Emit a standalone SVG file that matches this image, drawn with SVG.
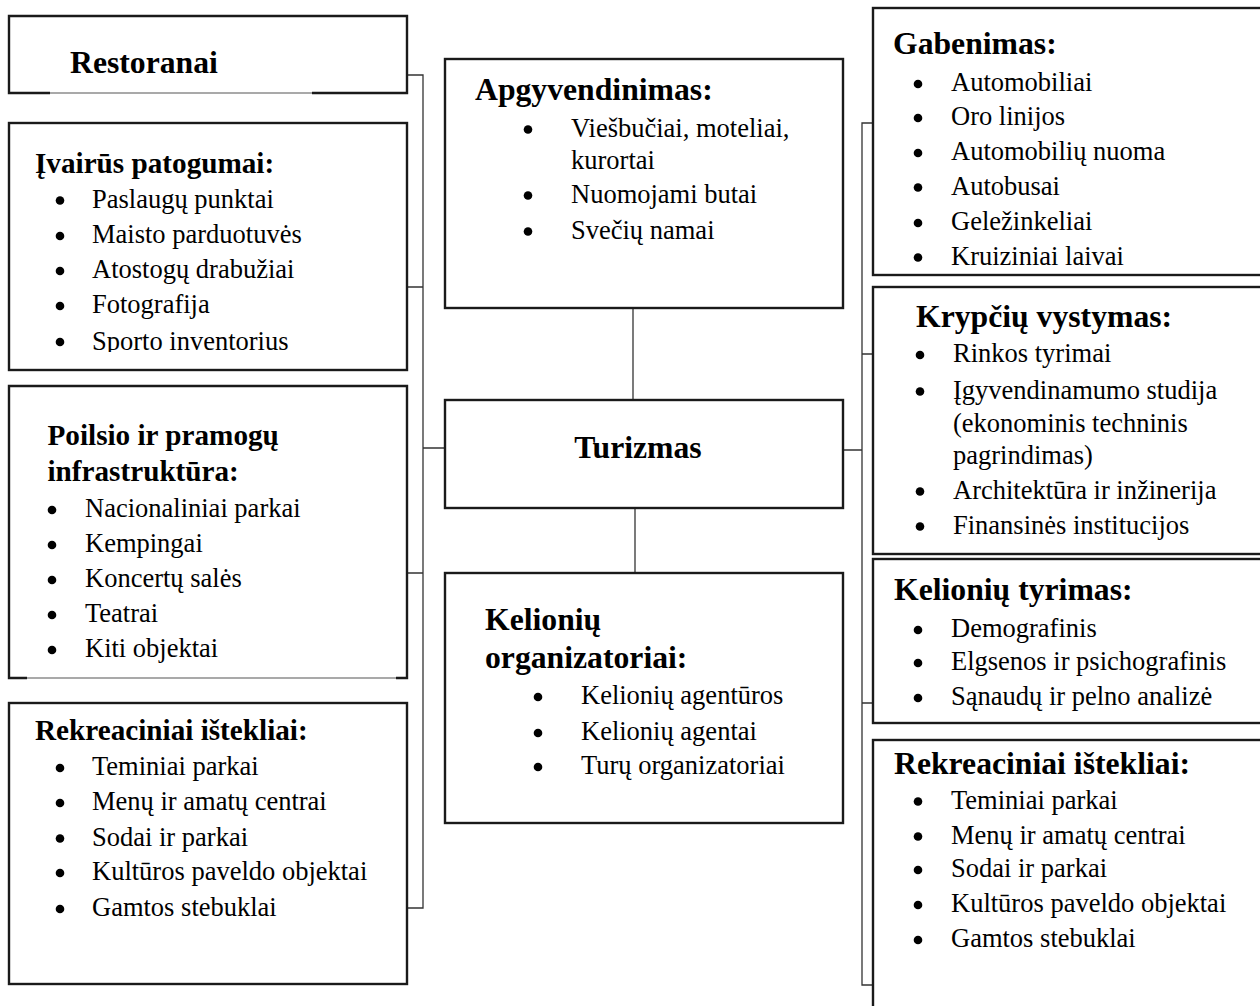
<svg xmlns="http://www.w3.org/2000/svg" width="1260" height="1006" viewBox="0 0 1260 1006">
<style>
.box{fill:#fff;stroke:#1a1a1a;stroke-width:2.4}
.edge{fill:none;stroke:#1a1a1a;stroke-width:2.4}
.thin{fill:none;stroke:#555;stroke-width:1.2}
.con{fill:none;stroke:#333;stroke-width:1.3}
text{font-family:"Liberation Serif","Times New Roman",serif;fill:#000}
.b{font-size:26.5px}
.h1{font-size:29.2px;font-weight:bold}
.h2{font-size:31.7px;font-weight:bold}
.dot{fill:#000}
</style>
<defs>
<clipPath id="clipSporto"><rect x="0" y="0" width="420" height="352"/></clipPath>
</defs>
<rect width="1260" height="1006" fill="#fff"/>

<g id="connectors">
<path class="con" d="M407,75 H423 V908 H407 M407,287 H423 M423,448 H445 M407,573 H423"/>
<path class="con" d="M873,123 H862 V985 H873 M862,354 H873 M843,450 H862 M862,703 H873"/>
<path class="con" d="M633,308 V400"/>
<path class="con" d="M635,508 V573"/>
</g>

<g id="restoranai">
<rect x="9" y="16" width="398" height="77" fill="#fff" stroke="none"/>
<path class="edge" d="M50,93 H9 V16 H407 V93 H312"/>
<path class="thin" d="M50,93 H312"/>
<text class="h2" x="70" y="73">Restoranai</text>
</g>

<g id="ivairus">
<rect class="box" x="9" y="123" width="398" height="247"/>
<text class="h1" x="35" y="173">Įvairūs patogumai:</text>
<circle class="dot" cx="60" cy="200.5" r="4.3"/><text class="b" x="92" y="207.5">Paslaugų punktai</text>
<circle class="dot" cx="60" cy="236" r="4.3"/><text class="b" x="92" y="243">Maisto parduotuvės</text>
<circle class="dot" cx="60" cy="271" r="4.3"/><text class="b" x="92" y="278">Atostogų drabužiai</text>
<circle class="dot" cx="60" cy="306" r="4.3"/><text class="b" x="92" y="313">Fotografija</text>
<circle class="dot" cx="60" cy="342" r="4.3"/><text class="b" x="92" y="349.5" clip-path="url(#clipSporto)">Sporto inventorius</text>
</g>

<g id="poilsio">
<rect x="9" y="386" width="398" height="292" fill="#fff" stroke="none"/>
<path class="edge" d="M27,678 H9 V386 H407 V678 H396"/>
<path class="thin" d="M27,678 H396"/>
<text class="h1" x="47.5" y="445">Poilsio ir pramogų</text>
<text class="h1" x="47.5" y="481">infrastruktūra:</text>
<circle class="dot" cx="52" cy="510" r="4.3"/><text class="b" x="85" y="517">Nacionaliniai parkai</text>
<circle class="dot" cx="52" cy="545" r="4.3"/><text class="b" x="85" y="552">Kempingai</text>
<circle class="dot" cx="52" cy="580" r="4.3"/><text class="b" x="85" y="587">Koncertų salės</text>
<circle class="dot" cx="52" cy="615" r="4.3"/><text class="b" x="85" y="622">Teatrai</text>
<circle class="dot" cx="52" cy="650" r="4.3"/><text class="b" x="85" y="657">Kiti objektai</text>
</g>

<g id="rekreaciniai-kaire">
<rect class="box" x="9" y="703" width="398" height="281"/>
<text class="h1" x="35" y="740">Rekreaciniai ištekliai:</text>
<circle class="dot" cx="60" cy="768" r="4.3"/><text class="b" x="92" y="775">Teminiai parkai</text>
<circle class="dot" cx="60" cy="803" r="4.3"/><text class="b" x="92" y="810">Menų ir amatų centrai</text>
<circle class="dot" cx="60" cy="838.5" r="4.3"/><text class="b" x="92" y="845.5">Sodai ir parkai</text>
<circle class="dot" cx="60" cy="873" r="4.3"/><text class="b" x="92" y="880">Kultūros paveldo objektai</text>
<circle class="dot" cx="60" cy="909" r="4.3"/><text class="b" x="92" y="916">Gamtos stebuklai</text>
</g>

<g id="apgyvendinimas">
<rect class="box" x="445" y="59" width="398" height="249"/>
<text class="h2" x="475" y="100">Apgyvendinimas:</text>
<circle class="dot" cx="528" cy="129.5" r="4.3"/><text class="b" x="571" y="136.5">Viešbučiai, moteliai,</text>
<text class="b" x="571" y="168.5">kurortai</text>
<circle class="dot" cx="528" cy="195.5" r="4.3"/><text class="b" x="571" y="202.5">Nuomojami butai</text>
<circle class="dot" cx="528" cy="231.5" r="4.3"/><text class="b" x="571" y="238.5">Svečių namai</text>
</g>

<g id="turizmas">
<rect class="box" x="445" y="400" width="398" height="108"/>
<text class="h2" x="638" y="458" text-anchor="middle">Turizmas</text>
</g>

<g id="keloniu-organizatoriai">
<rect class="box" x="445" y="573" width="398" height="250"/>
<text class="h2" x="485" y="629.5">Kelionių</text>
<text class="h2" x="485" y="668">organizatoriai:</text>
<circle class="dot" cx="538" cy="697" r="4.3"/><text class="b" x="581" y="704">Kelionių agentūros</text>
<circle class="dot" cx="538" cy="733" r="4.3"/><text class="b" x="581" y="740">Kelionių agentai</text>
<circle class="dot" cx="538" cy="767" r="4.3"/><text class="b" x="581" y="774">Turų organizatoriai</text>
</g>

<g id="gabenimas">
<rect class="box" x="873" y="8" width="400" height="267"/>
<text class="h2" x="893" y="53.5">Gabenimas:</text>
<circle class="dot" cx="918" cy="84" r="4.3"/><text class="b" x="951" y="91">Automobiliai</text>
<circle class="dot" cx="918" cy="118" r="4.3"/><text class="b" x="951" y="125">Oro linijos</text>
<circle class="dot" cx="918" cy="153" r="4.3"/><text class="b" x="951" y="160">Automobilių nuoma</text>
<circle class="dot" cx="918" cy="187.5" r="4.3"/><text class="b" x="951" y="194.5">Autobusai</text>
<circle class="dot" cx="918" cy="223" r="4.3"/><text class="b" x="951" y="230">Geležinkeliai</text>
<circle class="dot" cx="918" cy="257.5" r="4.3"/><text class="b" x="951" y="264.5">Kruiziniai laivai</text>
</g>

<g id="krypciu-vystymas">
<rect class="box" x="873" y="287" width="400" height="267"/>
<text class="h2" x="916" y="327">Krypčių vystymas:</text>
<circle class="dot" cx="920" cy="355" r="4.3"/><text class="b" x="953" y="362">Rinkos tyrimai</text>
<circle class="dot" cx="920" cy="391.5" r="4.3"/><text class="b" x="953" y="398.5">Įgyvendinamumo studija</text>
<text class="b" x="953" y="432">(ekonominis techninis</text>
<text class="b" x="953" y="463.5">pagrindimas)</text>
<circle class="dot" cx="920" cy="491.5" r="4.3"/><text class="b" x="953" y="498.5">Architektūra ir inžinerija</text>
<circle class="dot" cx="920" cy="526.5" r="4.3"/><text class="b" x="953" y="533.5">Finansinės institucijos</text>
</g>

<g id="kelioniu-tyrimas">
<rect class="box" x="873" y="559" width="400" height="164"/>
<text class="h2" x="894" y="600">Kelionių tyrimas:</text>
<circle class="dot" cx="918" cy="630" r="4.3"/><text class="b" x="951" y="637">Demografinis</text>
<circle class="dot" cx="918" cy="663" r="4.3"/><text class="b" x="951" y="670">Elgsenos ir psichografinis</text>
<circle class="dot" cx="918" cy="698" r="4.3"/><text class="b" x="951" y="705">Sąnaudų ir pelno analizė</text>
</g>

<g id="rekreaciniai-desine">
<rect class="box" x="873" y="740" width="400" height="280"/>
<text class="h2" x="894" y="773.5">Rekreaciniai ištekliai:</text>
<circle class="dot" cx="918" cy="801.5" r="4.3"/><text class="b" x="951" y="808.5">Teminiai parkai</text>
<circle class="dot" cx="918" cy="836.5" r="4.3"/><text class="b" x="951" y="843.5">Menų ir amatų centrai</text>
<circle class="dot" cx="918" cy="870" r="4.3"/><text class="b" x="951" y="877">Sodai ir parkai</text>
<circle class="dot" cx="918" cy="905" r="4.3"/><text class="b" x="951" y="912">Kultūros paveldo objektai</text>
<circle class="dot" cx="918" cy="940" r="4.3"/><text class="b" x="951" y="947">Gamtos stebuklai</text>
</g>
</svg>
